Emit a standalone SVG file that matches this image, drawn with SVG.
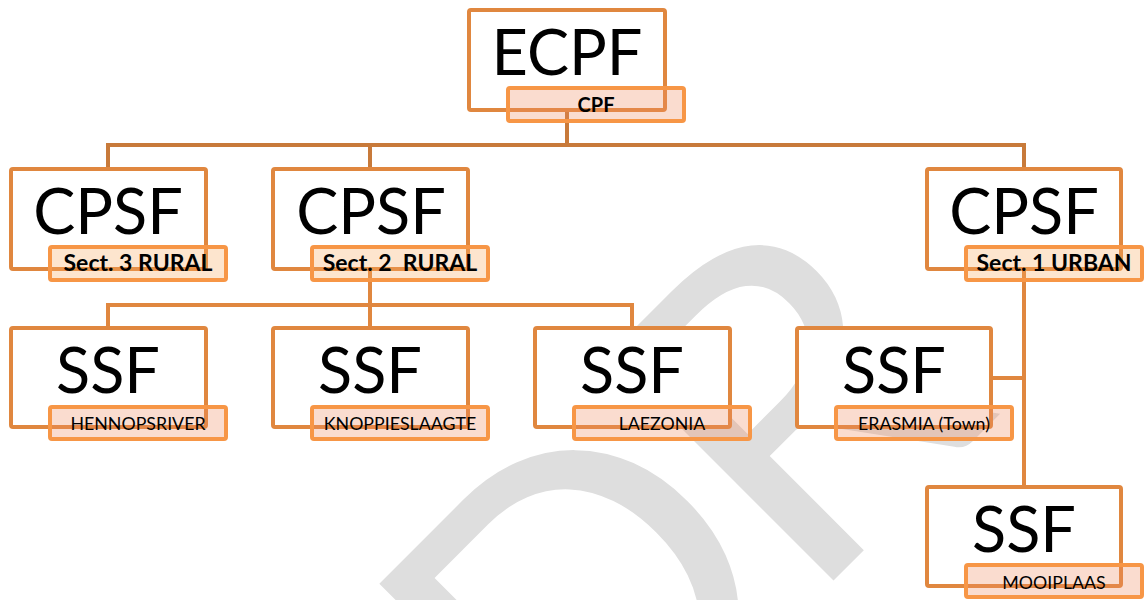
<svg xmlns="http://www.w3.org/2000/svg" width="1146" height="600" viewBox="0 0 1146 600">
<style>
.box{fill:#fff;stroke:#E0873F;stroke-width:4}
.lbl{fill:#EE8A5F;fill-opacity:0.3;stroke:#F79646;stroke-width:4}
.lblb{fill:#F8A85C;fill-opacity:0.3;stroke:#F79646;stroke-width:4}
.big{font-family:Lato,"Open Sans",sans-serif;font-size:63px;text-anchor:middle;fill:#000}
.t{font-family:Lato,"Open Sans",sans-serif;font-size:17.8px;text-anchor:middle;fill:#000}
.tb{font-family:Lato,"Open Sans",sans-serif;font-size:23px;font-weight:bold;text-anchor:middle;fill:#000}
.c1{stroke:#C87A3A;stroke-width:4;fill:none}
.c2{stroke:#E0873F;stroke-width:4;fill:none}
.wm{font-family:Lato,"Open Sans",sans-serif;font-size:445px;fill:#DEDEDE;letter-spacing:-15px}
</style>
<text class="wm" transform="translate(576,838) rotate(-45)">DR</text>
<g id="connectors">
<path class="c1" d="M567,110 V145 M108,169 V145 H1024 V169 M370,145 V169"/>
<path class="c2" d="M370,269 V328 M108,328 V305 H632 V328 M1024,269 V487 M991,378 H1024"/>
</g>
<g id="ecpf">
<rect class="box" x="469" y="10" width="196" height="100" rx="2"/>
<text class="big" x="567" y="75">ECPF</text>
<rect class="lbl" x="508" y="88" width="176" height="33" rx="2"/>
<text class="tb" x="596" y="112" style="font-size:20px">CPF</text>
</g>
<g id="cpsf3">
<rect class="box" x="11" y="169" width="195" height="100" rx="2"/>
<text class="big" x="108" y="234">CPSF</text>
<rect class="lblb" x="50" y="247" width="176" height="33" rx="2"/>
<text class="tb" x="138" y="271">Sect. 3 RURAL</text>
</g>
<g id="cpsf2">
<rect class="box" x="273" y="169" width="195" height="100" rx="2"/>
<text class="big" x="371" y="234">CPSF</text>
<rect class="lblb" x="312" y="247" width="176" height="33" rx="2"/>
<text class="tb" x="400" y="271" xml:space="preserve">Sect. 2  RURAL</text>
</g>
<g id="cpsf1">
<rect class="box" x="927" y="169" width="194" height="100" rx="2"/>
<text class="big" x="1024" y="234">CPSF</text>
<rect class="lblb" x="966" y="247" width="176" height="33" rx="2"/>
<text class="tb" x="1054" y="271">Sect. 1 URBAN</text>
</g>
<g id="ssf-hennopsriver">
<rect class="box" x="11" y="328" width="195" height="99" rx="2"/>
<text class="big" x="108" y="393">SSF</text>
<rect class="lbl" x="50" y="407" width="176" height="32" rx="2"/>
<text class="t" x="138" y="430">HENNOPSRIVER</text>
</g>
<g id="ssf-knoppieslaagte">
<rect class="box" x="273" y="328" width="195" height="99" rx="2"/>
<text class="big" x="370" y="393">SSF</text>
<rect class="lbl" x="312" y="407" width="176" height="32" rx="2"/>
<text class="t" x="400" y="430">KNOPPIESLAAGTE</text>
</g>
<g id="ssf-laezonia">
<rect class="box" x="535" y="328" width="195" height="99" rx="2"/>
<text class="big" x="632" y="393">SSF</text>
<rect class="lbl" x="574" y="407" width="176" height="32" rx="2"/>
<text class="t" x="662" y="430">LAEZONIA</text>
</g>
<g id="ssf-erasmia">
<rect class="box" x="797" y="328" width="194" height="99" rx="2"/>
<text class="big" x="894" y="393">SSF</text>
<rect class="lbl" x="836" y="407" width="176" height="32" rx="2"/>
<text class="t" x="924" y="430">ERASMIA (Town)</text>
</g>
<g id="ssf-mooiplaas">
<rect class="box" x="927" y="487" width="194" height="99" rx="2"/>
<text class="big" x="1024" y="552">SSF</text>
<rect class="lbl" x="966" y="565" width="176" height="32" rx="2"/>
<text class="t" x="1054" y="589">MOOIPLAAS</text>
</g>
</svg>
